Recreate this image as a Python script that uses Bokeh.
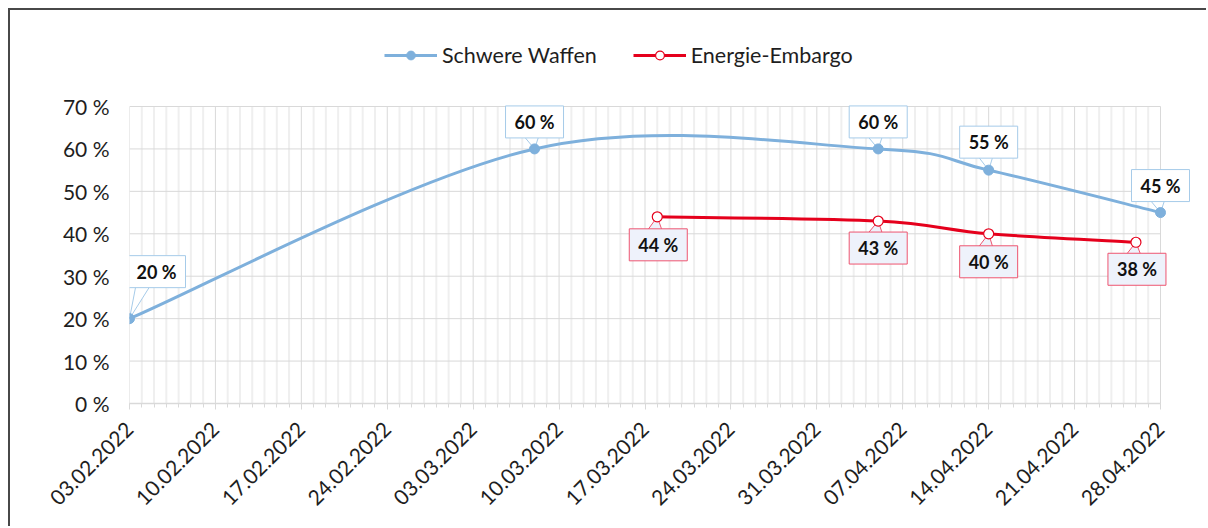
import math
import pandas as pd
from bokeh.plotting import figure
from bokeh.models import (Range1d, FixedTicker, DatetimeTickFormatter, PrintfTickFormatter,
                          Legend, LegendItem, ColumnDataSource, Label)
from bokeh.embed import file_html
from bokeh.resources import INLINE

# ---------------- data ----------------
series_names = ["Schwere Waffen", "Energie-Embargo"]
blue_dates = ["03.02.2022", "08.03.2022", "05.04.2022", "14.04.2022", "28.04.2022"]
blue_values = [20, 60, 60, 55, 45]
red_dates = ["18.03.2022", "05.04.2022", "14.04.2022", "26.04.2022"]
red_values = [44, 43, 40, 38]
tick_labels = ["03.02.2022", "10.02.2022", "17.02.2022", "24.02.2022", "03.03.2022",
               "10.03.2022", "17.03.2022", "24.03.2022", "31.03.2022", "07.04.2022",
               "14.04.2022", "21.04.2022", "28.04.2022"]
y_ticks = [0, 10, 20, 30, 40, 50, 60, 70]

# label offsets (screen px, relative to point)
blue_off_x = [27, 0, 0, 0, 0]
blue_off_y = [47, 27, 27, 28, 27]
red_off_x = [1, 0, 0, 1]
red_off_y = [-28, -27, -28, -27]

BLUE = "#7eb0dc"
RED = "#e5001c"
BLUE_BORDER = "#a6cbe9"
RED_BORDER = "#ee5570"
RED_FILL = "#eef2fb"
FONT = "Lato"
TXT = "#1e1e1e"
NAN = float("nan")


def to_ms(dates):
    idx = pd.to_datetime(dates, format="%d.%m.%Y")
    return [float(v) for v in (idx - pd.Timestamp("1970-01-01")) // pd.Timedelta("1ms")]


bx = to_ms(blue_dates)
rx = to_ms(red_dates)
tx = to_ms(tick_labels)
day_ms = 86400000.0
minor = [tx[0] + i * day_ms for i in range(int((tx[-1] - tx[0]) / day_ms) + 1)]

W, H = 1198, 518
ML, MR, MT, MB = 119, 8, 20, 125
FW, FH = W - ML - MR, H - MT - MB
x0, x1 = tx[0], tx[-1]
y0, y1 = y_ticks[0], y_ticks[-1]
ppx = 1031 / (x1 - x0)   # px per ms for the data area
ppy = 297 / (y1 - y0)    # px per %

p = figure(width=W, height=H, x_axis_type="datetime", output_backend="svg",
           toolbar_location=None,
           x_range=Range1d(x0, x0 + FW / ppx), y_range=Range1d(y0, y0 + FH / ppy),
           min_border_left=ML, min_border_right=MR, min_border_top=MT, min_border_bottom=MB)
p.styles = {"margin-left": "8px", "margin-top": "8px",
            "border-top": "2px solid #484848", "border-left": "2px solid #484848"}
p.outline_line_color = None
p.background_fill_color = "white"
p.border_fill_color = "white"
p.grid.visible = False

# gridlines (limited to the data area)
minor_only = [m for m in minor if m not in tx]
p.segment(x0=minor_only, y0=[y0] * len(minor_only), x1=minor_only, y1=[y1] * len(minor_only),
          line_color="#efefef", line_width=2, level="underlay")
p.segment(x0=tx, y0=[y0] * len(tx), x1=tx, y1=[y1] * len(tx),
          line_color="#d9d9d9", line_width=1, level="underlay")
p.segment(x0=[x0] * len(y_ticks), y0=y_ticks, x1=[x1] * len(y_ticks), y1=y_ticks,
          line_color="#d9d9d9", line_width=1, level="underlay")

# axes
p.xaxis.ticker = FixedTicker(ticks=tx, minor_ticks=minor)
p.xaxis.bounds = (x0, x1)
fmt = "%d.%m.%Y"
p.xaxis.formatter = DatetimeTickFormatter(microseconds=fmt, milliseconds=fmt, seconds=fmt,
                                         minsec=fmt, minutes=fmt, hourmin=fmt, hours=fmt,
                                         days=fmt, months=fmt, years=fmt)
p.xaxis.major_label_orientation = math.pi / 4
p.xaxis.axis_line_color = "#d9d9d9"
p.xaxis.axis_line_width = 1.5
p.xaxis.major_tick_line_color = "#d9d9d9"
p.xaxis.minor_tick_line_color = "#d9d9d9"
p.xaxis.major_tick_in = 0
p.xaxis.major_tick_out = 6
p.xaxis.minor_tick_in = 0
p.xaxis.minor_tick_out = 4
p.xaxis.major_label_text_font = FONT
p.xaxis.major_label_text_font_size = "21px"
p.xaxis.major_label_text_color = TXT
p.xaxis.major_label_standoff = 16

p.yaxis.ticker = FixedTicker(ticks=y_ticks)
p.yaxis.bounds = (y0, y1)
p.yaxis.formatter = PrintfTickFormatter(format="%d %%")
p.yaxis.axis_line_color = None
p.yaxis.major_tick_line_color = None
p.yaxis.minor_tick_line_color = None
p.yaxis.major_tick_out = 0
p.yaxis.major_label_standoff = 20
p.yaxis.major_label_text_font = FONT
p.yaxis.major_label_text_font_size = "21px"
p.yaxis.major_label_text_color = TXT


def bez(xs, ys):
    n = len(xs)
    d = dict(x0=[], y0=[], x1=[], y1=[], cx0=[], cy0=[], cx1=[], cy1=[])
    for i in range(n - 1):
        pm, pp = max(i - 1, 0), min(i + 2, n - 1)
        d["x0"].append(xs[i]); d["y0"].append(ys[i])
        d["x1"].append(xs[i + 1]); d["y1"].append(ys[i + 1])
        d["cx0"].append(xs[i] + (xs[i + 1] - xs[pm]) / 6)
        d["cy0"].append(ys[i] + (ys[i + 1] - ys[pm]) / 6)
        d["cx1"].append(xs[i + 1] - (xs[pp] - xs[i]) / 6)
        d["cy1"].append(ys[i + 1] - (ys[pp] - ys[i]) / 6)
    return ColumnDataSource(d)


def pointers(xs, ys, ox, oy):
    px, py = [], []
    for x, y, dx, dy in zip(xs, ys, ox, oy):
        edge = dy - 15 if dy > 0 else dy + 15
        bc = 0.6 * dx - 3
        px.append([x, x + (bc - 7) / ppx, x + (bc + 7) / ppx])
        py.append([y, y + edge / ppy, y + edge / ppy])
    return px, py


# pointers (callout tails)
bpx, bpy = pointers(bx, blue_values, blue_off_x, blue_off_y)
p.patches(bpx, bpy, fill_color="white", line_color=BLUE_BORDER, line_width=1)
rpx, rpy = pointers(rx, red_values, red_off_x, red_off_y)
p.patches(rpx, rpy, fill_color=RED_FILL, line_color=RED_BORDER, line_width=1)

# smooth lines
p.bezier(x0="x0", y0="y0", x1="x1", y1="y1", cx0="cx0", cy0="cy0", cx1="cx1", cy1="cy1",
         source=bez(bx, blue_values), line_color=BLUE, line_width=3)
p.bezier(x0="x0", y0="y0", x1="x1", y1="y1", cx0="cx0", cy0="cy0", cx1="cx1", cy1="cy1",
         source=bez(rx, red_values), line_color=RED, line_width=3)

p.scatter(bx, blue_values, size=10, marker="circle", fill_color=BLUE, line_color=BLUE)
p.scatter(rx, red_values, size=10, marker="circle", fill_color="white", line_color=RED,
          line_width=1.2)

# data labels
for xs, ys, oxs, oys, bc, fc in [(bx, blue_values, blue_off_x, blue_off_y, BLUE_BORDER, "white"),
                                 (rx, red_values, red_off_x, red_off_y, RED_BORDER, RED_FILL)]:
    for x, y, ox, oy in zip(xs, ys, oxs, oys):
        p.add_layout(Label(x=x, y=y, text=f"{y} %", x_offset=ox, y_offset=oy,
                           text_align="center", text_baseline="middle",
                           text_font=FONT, text_font_size="18px", text_font_style="bold",
                           text_color="#111111", background_fill_color=fc,
                           border_line_color=bc, border_line_width=1, padding=(9, 5)))

# legend (proxy renderers with a single NaN point, nothing drawn in the plot)
lb = p.line([NAN], [NAN], line_color=BLUE, line_width=3)
sb = p.scatter([NAN], [NAN], marker="circle", fill_color=BLUE, line_color=BLUE)
lr = p.line([NAN], [NAN], line_color=RED, line_width=3)
sr = p.scatter([NAN], [NAN], marker="circle", fill_color="white", line_color=RED,
               line_width=1.2)
legend = Legend(items=[LegendItem(label=series_names[0], renderers=[lb, sb]),
                       LegendItem(label=series_names[1], renderers=[lr, sr])],
                orientation="horizontal", location=(255, 335), padding=0, margin=0,
                spacing=36, glyph_width=53, glyph_height=22, label_height=22,
                label_standoff=5, label_text_font=FONT, label_text_font_size="21.5px",
                label_text_color=TXT, background_fill_alpha=0, border_line_color=None)
p.add_layout(legend, "center")

open("out.html", "w").write(file_html(p, INLINE))
